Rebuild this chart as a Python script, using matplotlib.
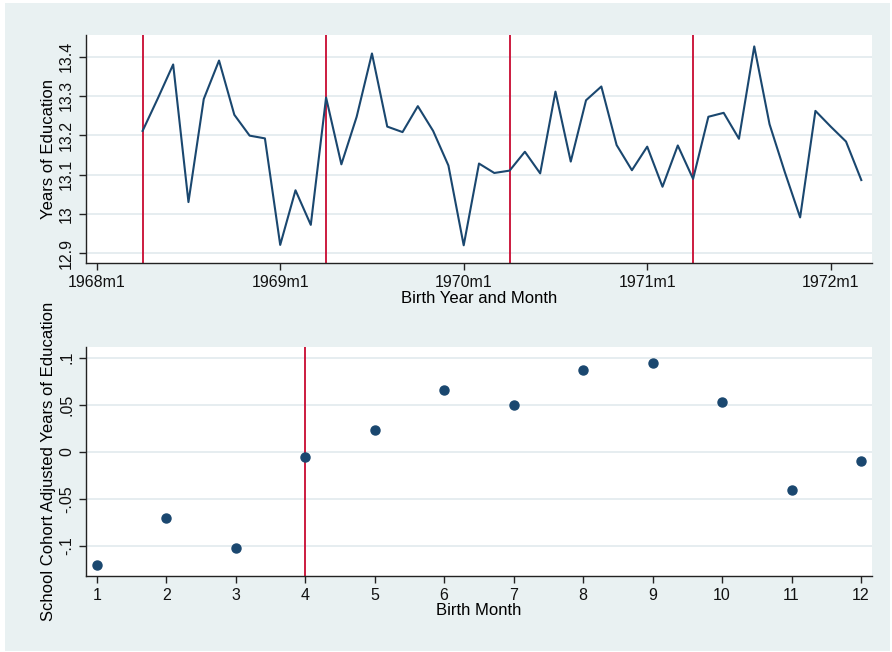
import numpy as np
import matplotlib
matplotlib.use("Agg")
import matplotlib.pyplot as plt
from matplotlib.patches import Rectangle

plt.rcParams['font.family'] = ['Liberation Sans', 'DejaVu Sans']

# top panel: years of education by birth month, 1968m4 - 1972m3
first_month = 3  # months since 1968m1
edu = [13.211, 13.294, 13.380, 13.030, 13.292, 13.390, 13.252, 13.199, 13.192,
       12.921, 13.060, 12.972, 13.296, 13.126, 13.247, 13.408, 13.222, 13.208,
       13.274, 13.211, 13.123, 12.920, 13.128, 13.104, 13.110, 13.158, 13.103,
       13.311, 13.133, 13.289, 13.324, 13.175, 13.111, 13.171, 13.069, 13.174,
       13.089, 13.247, 13.257, 13.191, 13.426, 13.228, 13.106, 12.991, 13.262,
       13.222, 13.184, 13.086]
cutoff_months = [3, 15, 27, 39]
top_xticks = [0, 12, 24, 36, 48]
top_xlabels = ['1968m1', '1969m1', '1970m1', '1971m1', '1972m1']
top_yticks = [12.9, 13.0, 13.1, 13.2, 13.3, 13.4]
top_ylabels = ['12.9', '13', '13.1', '13.2', '13.3', '13.4']

# bottom panel: school cohort adjusted education by birth month
birth_month = [1, 2, 3, 4, 5, 6, 7, 8, 9, 10, 11, 12]
adj_edu = [-0.120, -0.071, -0.1025, -0.006, 0.023, 0.0656, 0.0494, 0.0872,
           0.0943, 0.0529, -0.041, -0.010]
bot_cutoff = 4
bot_yticks = [-0.1, -0.05, 0, 0.05, 0.1]
bot_ylabels = ['-.1', '-.05', '0', '.05', '.1']

navy = '#1A476F'
red = '#CC1B3F'
region = '#E9F1F2'
grid = '#E2EAED'

W, H = 892, 652
fig = plt.figure(figsize=(W / 100, H / 100), dpi=100, facecolor='white')
fig.patches.append(Rectangle((5 / W, 1 / H), 885 / W, 648 / H, transform=fig.transFigure,
                             facecolor=region, edgecolor='none', zorder=-10))

ax1 = fig.add_axes([86 / W, (H - 263) / H, 786 / W, 228 / H])
ax2 = fig.add_axes([86 / W, (H - 575.7) / H, 786 / W, 229 / H])


def style(ax):
    ax.set_facecolor('white')
    for s in ['top', 'right']:
        ax.spines[s].set_visible(False)
    for s in ['left', 'bottom']:
        ax.spines[s].set_color('#222222')
        ax.spines[s].set_linewidth(1.0)
    ax.tick_params(direction='out', length=5, width=1, color='#222222',
                   labelsize=11.5, labelcolor='#111111')
    ax.tick_params(axis='y', labelrotation=90)
    for lab in ax.get_yticklabels():
        lab.set_verticalalignment('center')
    ax.grid(axis='y', color=grid, linewidth=1.2)
    ax.set_axisbelow(True)


# top panel
x = np.arange(first_month, first_month + len(edu))
for m in cutoff_months:
    ax1.axvline(m, color=red, linewidth=1.4, zorder=2)
ax1.plot(x, edu, color=navy, linewidth=1.5, zorder=3)
ax1.set_xlim(-0.7, 50.7)
ax1.set_ylim(12.875, 13.455)
ax1.set_xticks(top_xticks)
ax1.set_xticklabels(top_xlabels)
ax1.set_yticks(top_yticks)
ax1.set_yticklabels(top_ylabels)
style(ax1)
ax1.set_xlabel('Birth Year and Month', fontsize=12, labelpad=1)
ax1.set_ylabel('Years of Education', fontsize=12, labelpad=2)

# bottom panel
ax2.axvline(bot_cutoff, color=red, linewidth=1.4, zorder=2)
ax2.plot(birth_month, adj_edu, 'o', color=navy, markersize=6.5, zorder=3)
ax2.set_xlim(0.846, 12.158)
ax2.set_ylim(-0.1319, 0.1117)
ax2.set_xticks(birth_month)
ax2.set_yticks(bot_yticks)
ax2.set_yticklabels(bot_ylabels)
style(ax2)
ax2.set_xlabel('Birth Month', fontsize=12, labelpad=0)
ax2.set_ylabel('School Cohort Adjusted Years of Education', fontsize=12, labelpad=2)

fig.savefig('out.png', dpi=100, facecolor=fig.get_facecolor())
